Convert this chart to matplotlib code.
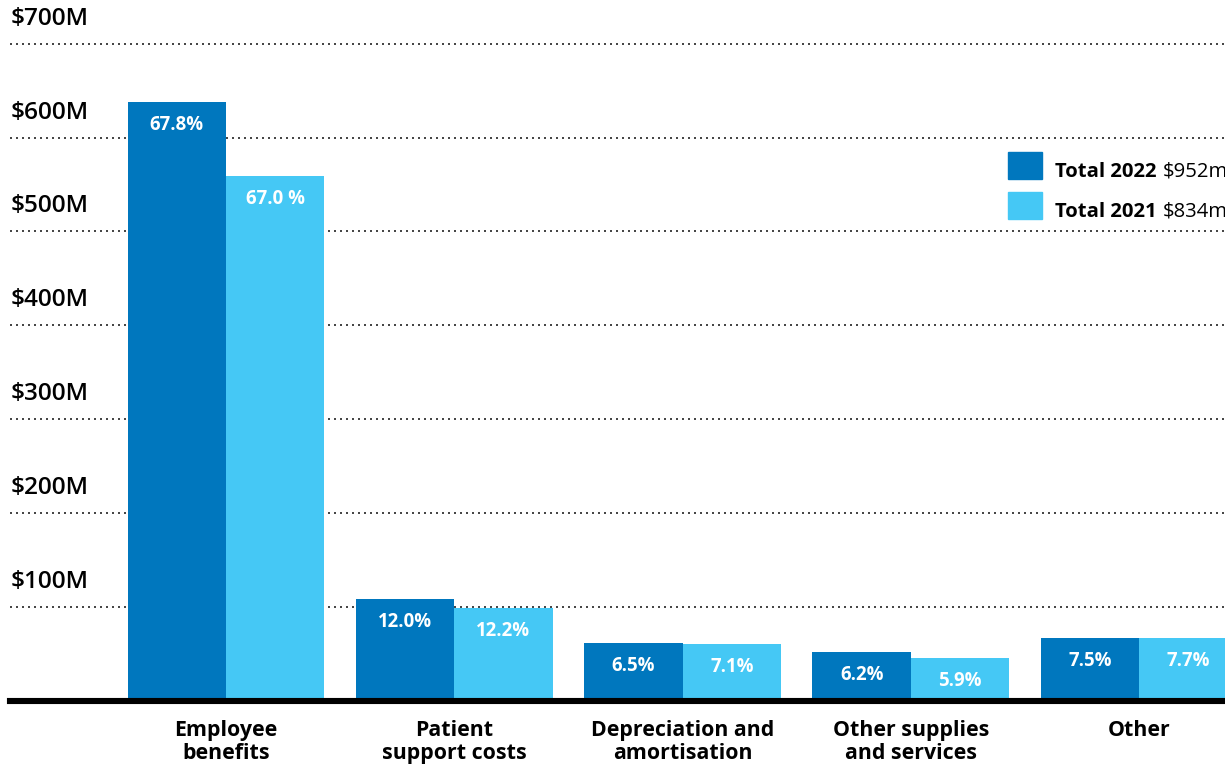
import matplotlib
matplotlib.use("Agg")
import matplotlib.pyplot as plt
from matplotlib.patches import Rectangle
import numpy as np

plt.rcParams['font.family'] = ['Open Sans', 'DejaVu Sans']

categories = ["Employee\nbenefits", "Patient\nsupport costs", "Depreciation and\namortisation",
              "Other supplies\nand services", "Other"]
values_2022 = [638, 108.6, 61.4, 51.9, 66.8]
values_2021 = [559, 99.4, 60.4, 45.5, 66.8]
labels_2022 = ["67.8%", "12.0%", "6.5%", "6.2%", "7.5%"]
labels_2021 = ["67.0 %", "12.2%", "7.1%", "5.9%", "7.7%"]
legend_years = ["Total 2022", "Total 2021"]
legend_totals = ["$952m", "$834m"]
yticks = [100, 200, 300, 400, 500, 600, 700]
ytick_labels = ["$100M", "$200M", "$300M", "$400M", "$500M", "$600M", "$700M"]

C22 = "#0077BE"
C21 = "#45C8F5"

W, H = 1225, 766
fig = plt.figure(figsize=(W / 100, H / 100), dpi=100)
ax = fig.add_axes([10 / W, 65 / H, (W - 10) / W, 701 / H])

x = np.arange(len(categories))
w = 0.431
b1 = ax.bar(x - w / 2, values_2022, width=w, color=C22, zorder=3)
b2 = ax.bar(x + w / 2, values_2021, width=w, color=C21, zorder=3)

ax.set_xlim(-0.946, 4.376)
ax.set_ylim(0, 746.5)

ax.set_yticks(yticks)
ax.set_yticklabels([])
ax.set_xticks([])
ax.tick_params(axis='y', length=0)
ax.yaxis.grid(True, linestyle=(0, (1.2, 2.4)), linewidth=1.2, color="#222222", zorder=1)
ax.set_axisbelow(True)

for s in ["top", "right", "left"]:
    ax.spines[s].set_visible(False)
ax.spines["bottom"].set_linewidth(4.4)
ax.spines["bottom"].set_color("black")
ax.spines["bottom"].set_zorder(5)

# y tick labels above gridlines
for v, lab in zip(yticks, ytick_labels):
    ax.annotate(lab.replace("$", r"\$"), xy=(0, v), xycoords=ax.get_yaxis_transform(),
                xytext=(1, 19), textcoords="offset pixels", ha="left", va="baseline",
                fontsize=17.6, fontweight="semibold", color="black")

# bar value labels
for bars, labs in ((b1, labels_2022), (b2, labels_2021)):
    for rect, lab in zip(bars, labs):
        ax.annotate(lab, xy=(rect.get_x() + rect.get_width() / 2, rect.get_height()),
                    xytext=(0, -23), textcoords="offset pixels", ha="center", va="center",
                    fontsize=13.4, fontweight="bold", color="white", zorder=6)

# category labels
for i, cat in enumerate(categories):
    ax.annotate(cat, xy=(i, 0), xytext=(0, -19), textcoords="offset pixels",
                ha="center", va="top", fontsize=15.4, fontweight="bold", color="black",
                linespacing=1.12, annotation_clip=False)

# legend
sq_tops = [152, 192]
for col, top, yr, tot in zip([C22, C21], sq_tops, legend_years, legend_totals):
    fig.add_artist(Rectangle((1008 / W, 1 - (top + 27) / H), 34 / W, 27 / H,
                             transform=fig.transFigure, color=col))
    base = 1 - (top + 24.7) / H
    t = fig.text(1055 / W, base, yr, ha="left", va="baseline", fontsize=14.6,
                 fontweight="bold", color="black")
    fig.canvas.draw()
    bb = t.get_window_extent()
    fig.text((bb.x1 + 6) / W, base, tot.replace("$", r"\$"), ha="left", va="baseline",
             fontsize=14.6, fontweight="normal", color="black")

fig.savefig("out.png", dpi=100)
